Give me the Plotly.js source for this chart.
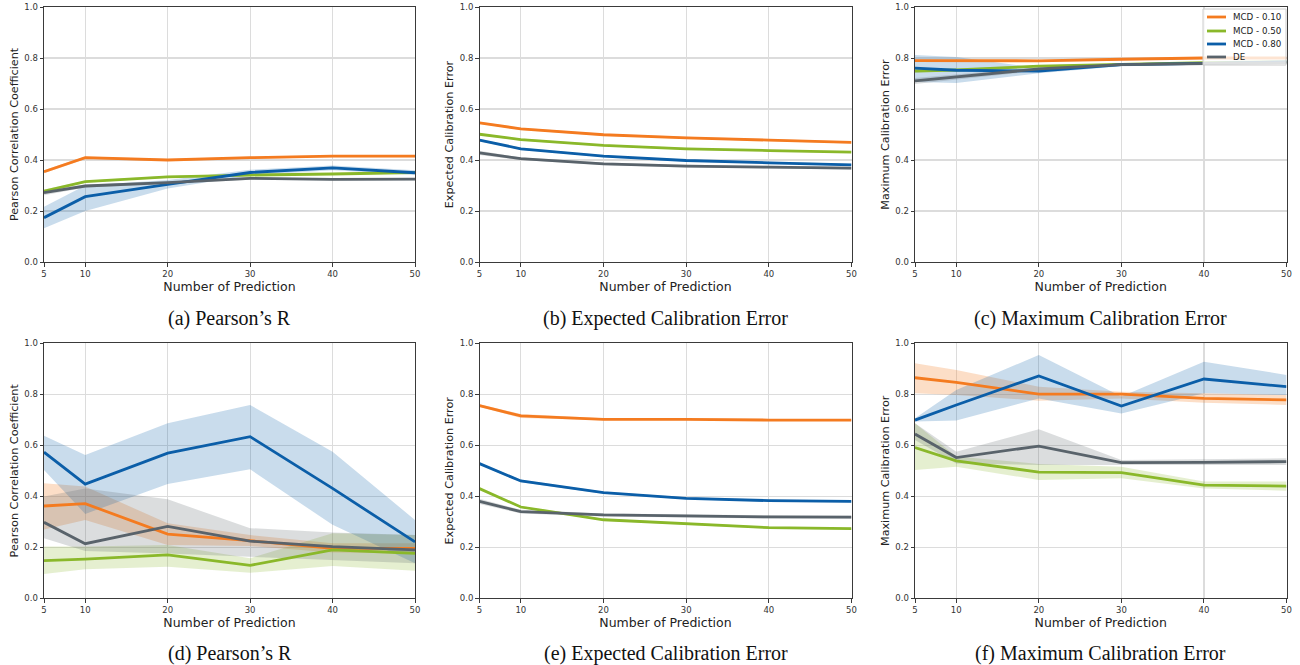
<!DOCTYPE html>
<html>
<head>
<meta charset="utf-8">
<script src="https://cdn.plot.ly/plotly-3.0.1.min.js"></script>
<style>html,body{margin:0;padding:0;background:#fff;}#chart{width:1300px;height:665px;}</style>
</head>
<body>
<div id="chart"></div>
<script>
// ---------- data ----------
const xs = [5, 10, 20, 30, 40, 50];
const seriesNames = ["MCD - 0.10", "MCD - 0.50", "MCD - 0.80", "DE"];
const seriesColors = ["#F47B20", "#8AB82A", "#0B5EA8", "#59636B"];
const bandColors = ["rgba(244,123,32,0.25)", "rgba(138,184,42,0.22)", "rgba(11,94,168,0.22)", "rgba(89,99,107,0.22)"];
const yTitles = ["Pearson Correlation Coefficient", "Expected Calibration Error", "Maximum Calibration Error",
                 "Pearson Correlation Coefficient", "Expected Calibration Error", "Maximum Calibration Error"];
const captions = ["(a) Pearson’s R", "(b) Expected Calibration Error", "(c) Maximum Calibration Error",
                  "(d) Pearson’s R", "(e) Expected Calibration Error", "(f) Maximum Calibration Error"];
const xTickVals = [5, 10, 20, 30, 40, 50];
const yTickVals = [0.0, 0.2, 0.4, 0.6, 0.8, 1.0];

// (a) Pearson's R, top row
const a_mcd10    = [0.354, 0.409, 0.400, 0.409, 0.415, 0.415];
const a_mcd10_lo = [0.348, 0.404, 0.396, 0.405, 0.411, 0.411];
const a_mcd10_hi = [0.360, 0.414, 0.404, 0.413, 0.419, 0.419];
const a_mcd50    = [0.278, 0.315, 0.334, 0.341, 0.345, 0.351];
const a_mcd50_lo = [0.272, 0.311, 0.330, 0.337, 0.341, 0.347];
const a_mcd50_hi = [0.284, 0.319, 0.338, 0.345, 0.349, 0.355];
const a_mcd80    = [0.174, 0.256, 0.304, 0.351, 0.369, 0.350];
const a_mcd80_lo = [0.132, 0.200, 0.288, 0.340, 0.360, 0.342];
const a_mcd80_hi = [0.217, 0.300, 0.322, 0.362, 0.378, 0.360];
const a_de       = [0.272, 0.298, 0.311, 0.328, 0.324, 0.325];
const a_de_lo    = [0.262, 0.292, 0.306, 0.323, 0.320, 0.321];
const a_de_hi    = [0.282, 0.304, 0.316, 0.333, 0.328, 0.329];

// (b) Expected Calibration Error, top row
const b_mcd10    = [0.546, 0.522, 0.499, 0.487, 0.478, 0.469];
const b_mcd10_lo = [0.542, 0.518, 0.495, 0.483, 0.474, 0.465];
const b_mcd10_hi = [0.550, 0.526, 0.503, 0.491, 0.482, 0.473];
const b_mcd50    = [0.501, 0.480, 0.457, 0.444, 0.437, 0.431];
const b_mcd50_lo = [0.497, 0.476, 0.453, 0.440, 0.433, 0.427];
const b_mcd50_hi = [0.505, 0.484, 0.461, 0.448, 0.441, 0.435];
const b_mcd80    = [0.478, 0.444, 0.415, 0.398, 0.389, 0.381];
const b_mcd80_lo = [0.474, 0.440, 0.411, 0.394, 0.385, 0.377];
const b_mcd80_hi = [0.482, 0.448, 0.419, 0.402, 0.393, 0.385];
const b_de       = [0.428, 0.405, 0.385, 0.376, 0.372, 0.368];
const b_de_lo    = [0.420, 0.400, 0.380, 0.371, 0.367, 0.363];
const b_de_hi    = [0.436, 0.410, 0.390, 0.381, 0.377, 0.373];

// (c) Maximum Calibration Error, top row
const c_mcd10    = [0.790, 0.789, 0.789, 0.795, 0.800, 0.800];
const c_mcd10_lo = [0.786, 0.785, 0.785, 0.791, 0.796, 0.796];
const c_mcd10_hi = [0.794, 0.793, 0.793, 0.799, 0.804, 0.804];
const c_mcd50    = [0.749, 0.753, 0.768, 0.775, 0.782, 0.785];
const c_mcd50_lo = [0.743, 0.748, 0.764, 0.771, 0.778, 0.781];
const c_mcd50_hi = [0.755, 0.758, 0.772, 0.779, 0.786, 0.789];
const c_mcd80    = [0.760, 0.752, 0.749, 0.774, 0.779, 0.785];
const c_mcd80_lo = [0.706, 0.702, 0.740, 0.768, 0.774, 0.779];
const c_mcd80_hi = [0.812, 0.804, 0.760, 0.780, 0.784, 0.791];
const c_de       = [0.710, 0.726, 0.757, 0.774, 0.779, 0.782];
const c_de_lo    = [0.698, 0.716, 0.750, 0.770, 0.775, 0.778];
const c_de_hi    = [0.722, 0.736, 0.764, 0.778, 0.783, 0.786];

// (d) Pearson's R, bottom row
const d_mcd10    = [0.362, 0.371, 0.252, 0.226, 0.196, 0.196];
const d_mcd10_lo = [0.270, 0.307, 0.209, 0.205, 0.180, 0.176];
const d_mcd10_hi = [0.451, 0.438, 0.294, 0.248, 0.216, 0.216];
const d_mcd50    = [0.148, 0.154, 0.170, 0.129, 0.190, 0.176];
const d_mcd50_lo = [0.095, 0.114, 0.124, 0.100, 0.127, 0.108];
const d_mcd50_hi = [0.203, 0.203, 0.209, 0.157, 0.255, 0.248];
const d_mcd80    = [0.573, 0.448, 0.569, 0.634, 0.431, 0.221];
const d_mcd80_lo = [0.503, 0.331, 0.448, 0.506, 0.288, 0.137];
const d_mcd80_hi = [0.637, 0.562, 0.686, 0.758, 0.575, 0.307];
const d_de       = [0.298, 0.214, 0.282, 0.224, 0.203, 0.190];
const d_de_lo    = [0.235, 0.185, 0.176, 0.161, 0.150, 0.137];
const d_de_hi    = [0.399, 0.431, 0.388, 0.275, 0.258, 0.248];

// (e) Expected Calibration Error, bottom row
const e_mcd10    = [0.756, 0.715, 0.702, 0.702, 0.699, 0.699];
const e_mcd10_lo = [0.751, 0.707, 0.698, 0.698, 0.695, 0.695];
const e_mcd10_hi = [0.761, 0.723, 0.706, 0.706, 0.703, 0.703];
const e_mcd50    = [0.430, 0.358, 0.308, 0.292, 0.277, 0.273];
const e_mcd50_lo = [0.426, 0.354, 0.304, 0.288, 0.273, 0.269];
const e_mcd50_hi = [0.434, 0.362, 0.312, 0.296, 0.281, 0.277];
const e_mcd80    = [0.528, 0.460, 0.414, 0.392, 0.383, 0.380];
const e_mcd80_lo = [0.524, 0.455, 0.410, 0.388, 0.379, 0.376];
const e_mcd80_hi = [0.532, 0.465, 0.418, 0.396, 0.387, 0.384];
const e_de       = [0.380, 0.340, 0.327, 0.322, 0.319, 0.318];
const e_de_lo    = [0.370, 0.333, 0.321, 0.316, 0.313, 0.312];
const e_de_hi    = [0.390, 0.347, 0.333, 0.328, 0.325, 0.324];

// (f) Maximum Calibration Error, bottom row
const f_mcd10    = [0.865, 0.847, 0.801, 0.801, 0.784, 0.778];
const f_mcd10_lo = [0.804, 0.797, 0.775, 0.784, 0.767, 0.758];
const f_mcd10_hi = [0.922, 0.895, 0.830, 0.810, 0.804, 0.797];
const f_mcd50    = [0.591, 0.539, 0.495, 0.493, 0.444, 0.440];
const f_mcd50_lo = [0.503, 0.516, 0.464, 0.471, 0.431, 0.422];
const f_mcd50_hi = [0.686, 0.556, 0.527, 0.516, 0.458, 0.458];
const f_mcd80    = [0.699, 0.758, 0.872, 0.754, 0.860, 0.830];
const f_mcd80_lo = [0.693, 0.697, 0.784, 0.725, 0.804, 0.797];
const f_mcd80_hi = [0.706, 0.817, 0.954, 0.791, 0.928, 0.876];
const f_de       = [0.644, 0.552, 0.597, 0.532, 0.533, 0.536];
const f_de_lo    = [0.621, 0.529, 0.523, 0.523, 0.523, 0.523];
const f_de_hi    = [0.686, 0.575, 0.663, 0.542, 0.545, 0.549];

const panels = [
  {mean: [a_mcd10, a_mcd50, a_mcd80, a_de], lo: [a_mcd10_lo, a_mcd50_lo, a_mcd80_lo, a_de_lo], hi: [a_mcd10_hi, a_mcd50_hi, a_mcd80_hi, a_de_hi]},
  {mean: [b_mcd10, b_mcd50, b_mcd80, b_de], lo: [b_mcd10_lo, b_mcd50_lo, b_mcd80_lo, b_de_lo], hi: [b_mcd10_hi, b_mcd50_hi, b_mcd80_hi, b_de_hi]},
  {mean: [c_mcd10, c_mcd50, c_mcd80, c_de], lo: [c_mcd10_lo, c_mcd50_lo, c_mcd80_lo, c_de_lo], hi: [c_mcd10_hi, c_mcd50_hi, c_mcd80_hi, c_de_hi]},
  {mean: [d_mcd10, d_mcd50, d_mcd80, d_de], lo: [d_mcd10_lo, d_mcd50_lo, d_mcd80_lo, d_de_lo], hi: [d_mcd10_hi, d_mcd50_hi, d_mcd80_hi, d_de_hi]},
  {mean: [e_mcd10, e_mcd50, e_mcd80, e_de], lo: [e_mcd10_lo, e_mcd50_lo, e_mcd80_lo, e_de_lo], hi: [e_mcd10_hi, e_mcd50_hi, e_mcd80_hi, e_de_hi]},
  {mean: [f_mcd10, f_mcd50, f_mcd80, f_de], lo: [f_mcd10_lo, f_mcd50_lo, f_mcd80_lo, f_de_lo], hi: [f_mcd10_hi, f_mcd50_hi, f_mcd80_hi, f_de_hi]}
];

// ---------- layout geometry (pixels) ----------
const W = 1300, H = 665;
const colPx = [[44, 415], [479.5, 851.5], [915, 1286.5]];
const rowPx = [[7, 262], [343.3, 598.3]];
const captionY = [318, 653];
const px = v => v / W, py = v => 1 - v / H;

const traces = [];
const layout = {
  width: W, height: H,
  margin: {l: 0, r: 0, t: 0, b: 0},
  paper_bgcolor: "#fff", plot_bgcolor: "#fff",
  font: {family: "DejaVu Sans, sans-serif", color: "#222"},
  showlegend: false,
  annotations: [],
  shapes: []
};

panels.forEach((p, i) => {
  const r = Math.floor(i / 3), c = i % 3;
  const n = i + 1;
  const xa = n === 1 ? "x" : "x" + n, ya = n === 1 ? "y" : "y" + n;
  const xkey = n === 1 ? "xaxis" : "xaxis" + n, ykey = n === 1 ? "yaxis" : "yaxis" + n;
  layout[xkey] = {
    domain: [px(colPx[c][0]), px(colPx[c][1])], anchor: ya,
    range: [5, 50], tickvals: xTickVals, ticktext: xTickVals.map(String),
    showgrid: true, gridcolor: "#dcdcdc", gridwidth: 1.2, zeroline: false,
    showline: true, linecolor: "#3a3a3a", linewidth: 1, mirror: true,
    ticks: "outside", ticklen: 3.5, tickcolor: "#3a3a3a", tickwidth: 1,
    tickfont: {size: 8.5, color: "#333"},
    title: {text: "Number of Prediction", font: {size: 12.5, color: "#222"}, standoff: 3},
    automargin: false
  };
  layout[ykey] = {
    domain: [py(rowPx[r][1]), py(rowPx[r][0])], anchor: xa,
    range: [0, 1], tickvals: yTickVals, ticktext: yTickVals.map(v => v.toFixed(1)),
    showgrid: true, gridcolor: "#dcdcdc", gridwidth: 1.2, zeroline: false,
    showline: true, linecolor: "#3a3a3a", linewidth: 1, mirror: true,
    ticks: "outside", ticklen: 3.5, tickcolor: "#3a3a3a", tickwidth: 1,
    tickfont: {size: 8.5, color: "#333"},
    title: {text: yTitles[i], font: {size: 11.2, color: "#222"}, standoff: 3},
    automargin: false
  };
  // bands
  for (let s = 0; s < 4; s++) {
    traces.push({
      type: "scatter", mode: "lines", xaxis: xa, yaxis: ya,
      x: xs.concat(xs.slice().reverse()),
      y: p.hi[s].concat(p.lo[s].slice().reverse()),
      fill: "toself", fillcolor: bandColors[s], line: {width: 0, color: bandColors[s]},
      showlegend: false, hoverinfo: "skip"
    });
  }
  // mean lines
  for (let s = 0; s < 4; s++) {
    traces.push({
      type: "scatter", mode: "lines", xaxis: xa, yaxis: ya,
      x: xs, y: p.mean[s], name: seriesNames[s],
      line: {color: seriesColors[s], width: 2.8}
    });
  }
  layout.annotations.push({
    xref: "paper", yref: "paper",
    x: px((colPx[c][0] + colPx[c][1]) / 2), y: py(captionY[r]),
    xanchor: "center", yanchor: "middle", showarrow: false,
    text: captions[i],
    font: {family: "Liberation Serif, Times New Roman, serif", size: 20, color: "#111"}
  });
});

// legend box inside panel (c), matplotlib style
const legBox = {x0: 1203, x1: 1286, y0: 9, y1: 65};
layout.shapes.push({
  type: "rect", xref: "paper", yref: "paper", layer: "above",
  x0: px(legBox.x0), x1: px(legBox.x1), y0: py(legBox.y1), y1: py(legBox.y0),
  fillcolor: "rgba(255,255,255,0.8)", line: {color: "#cccccc", width: 1}
});
const legRowY = [17, 31, 44, 57];
seriesNames.forEach((name, s) => {
  layout.shapes.push({
    type: "line", xref: "paper", yref: "paper", layer: "above",
    x0: px(1207), x1: px(1226), y0: py(legRowY[s]), y1: py(legRowY[s]),
    line: {color: seriesColors[s], width: 2.8}
  });
  layout.annotations.push({
    xref: "paper", yref: "paper", x: px(1231), y: py(legRowY[s]),
    xanchor: "left", yanchor: "middle", showarrow: false,
    text: name, font: {size: 8.7, color: "#222"}
  });
});

Plotly.newPlot("chart", traces, layout, {staticPlot: true, displayModeBar: false});
</script>
</body>
</html>
